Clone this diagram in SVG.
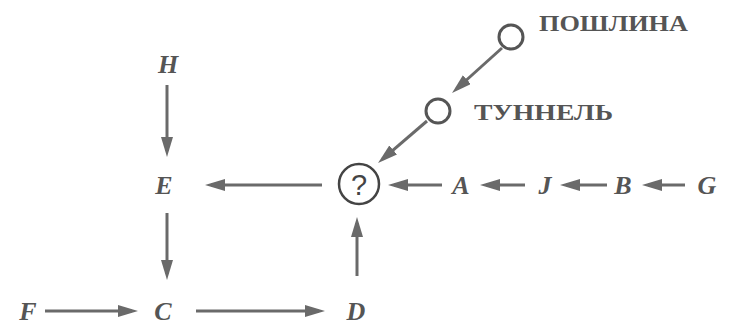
<svg xmlns="http://www.w3.org/2000/svg" width="729" height="325" viewBox="0 0 729 325">
<style>
.lbl{font-family:"Liberation Serif","Times New Roman",serif;font-style:italic;font-weight:bold;font-size:26px;fill:#555;text-anchor:middle}
.cap{font-family:"Liberation Serif","Times New Roman",serif;font-weight:bold;font-size:24px;fill:#555}
.edge{stroke:#6a6a6a;stroke-width:3;fill:none;marker-end:url(#ah)}
.ring{fill:none;stroke:#555;stroke-width:3}
</style>
<defs>
<marker id="ah" markerUnits="userSpaceOnUse" markerWidth="20" markerHeight="12" refX="14" refY="6" orient="auto">
<path d="M0,0 L20,6 L0,12 z" fill="#6a6a6a"/>
</marker>
</defs>
<rect width="729" height="325" fill="#fff"/>
<g id="connectors">
<line class="edge" x1="167" y1="85" x2="167" y2="151"/>
<line class="edge" x1="167" y1="213" x2="167" y2="274"/>
<line class="edge" x1="322" y1="185" x2="211" y2="185"/>
<line class="edge" x1="357" y1="276" x2="357" y2="223"/>
<line class="edge" x1="45" y1="311" x2="132" y2="311"/>
<line class="edge" x1="196" y1="311" x2="319" y2="311"/>
<line class="edge" x1="502" y1="48" x2="456.5" y2="89"/>
<line class="edge" x1="427" y1="121" x2="382.6" y2="159.1"/>
<line class="edge" x1="442" y1="185" x2="394" y2="185"/>
<line class="edge" x1="525" y1="185" x2="486" y2="185"/>
<line class="edge" x1="607" y1="185" x2="566" y2="185"/>
<line class="edge" x1="685" y1="185" x2="648" y2="185"/>
</g>
<g id="H"><text class="lbl" x="168" y="73">H</text></g>
<g id="E"><text class="lbl" x="164" y="194">E</text></g>
<g id="C"><text class="lbl" x="163" y="320">C</text></g>
<g id="F"><text class="lbl" x="28" y="320">F</text></g>
<g id="D"><text class="lbl" x="356" y="320">D</text></g>
<g id="Q"><circle cx="359" cy="184" r="20" fill="none" stroke="#444" stroke-width="2.5"/><text x="359" y="195" font-family="Liberation Sans, Arial, sans-serif" font-size="29" fill="#444" text-anchor="middle">?</text></g>
<g id="A"><text class="lbl" x="461" y="194">A</text></g>
<g id="J"><text class="lbl" x="545" y="194">J</text></g>
<g id="B"><text class="lbl" x="623" y="194">B</text></g>
<g id="G"><text class="lbl" x="707" y="194">G</text></g>
<g id="tunnel"><circle class="ring" cx="438" cy="111" r="12"/><text class="cap" x="474" y="120" textLength="139" lengthAdjust="spacingAndGlyphs">ТУННЕЛЬ</text></g>
<g id="toll"><circle class="ring" cx="511" cy="37" r="12"/><text class="cap" x="539" y="31" textLength="149" lengthAdjust="spacingAndGlyphs">ПОШЛИНА</text></g>
</svg>
